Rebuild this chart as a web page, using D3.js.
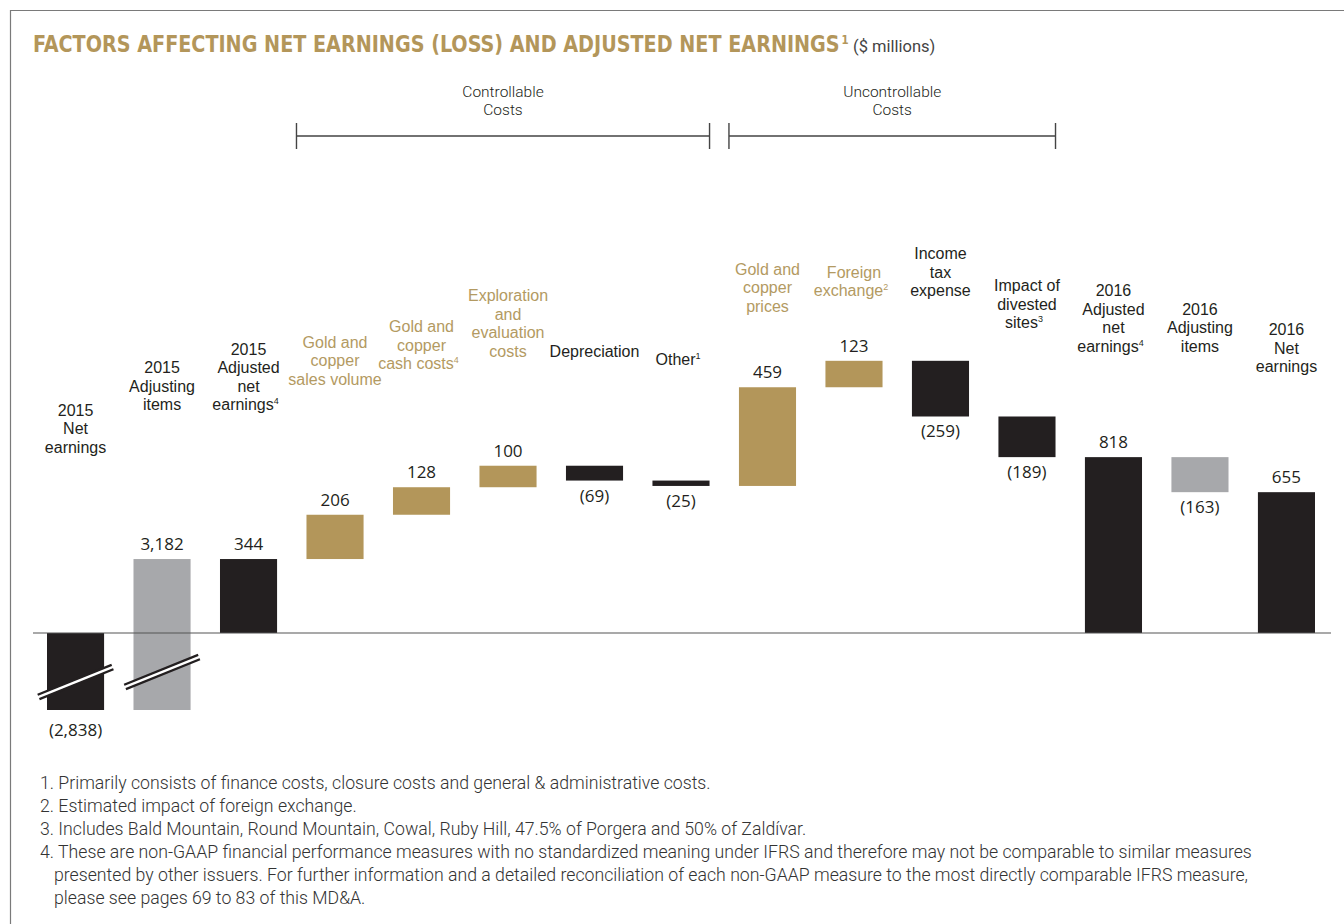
<!DOCTYPE html>
<html>
<head>
<meta charset="utf-8">
<script src="https://cdn.jsdelivr.net/npm/d3@7/dist/d3.min.js"></script>
<style>
  body { margin: 0; background: #fff; }
  svg { display: block; }
</style>
</head>
<body>
<div id="chart"></div>
<script>
// label lines, "^" marks a superscript footnote number
var labels = [
  ["2015", "Net", "earnings"],
  ["2015", "Adjusting", "items"],
  ["2015", "Adjusted", "net", "earnings^4"],
  ["Gold and", "copper", "sales volume"],
  ["Gold and", "copper", "cash costs^4"],
  ["Exploration", "and", "evaluation", "costs"],
  ["Depreciation"],
  ["Other^1"],
  ["Gold and", "copper", "prices"],
  ["Foreign", "exchange^2"],
  ["Income", "tax", "expense"],
  ["Impact of", "divested", "sites^3"],
  ["2016", "Adjusted", "net", "earnings^4"],
  ["2016", "Adjusting", "items"],
  ["2016", "Net", "earnings"]
];
var values = [-2838, 3182, 344, 206, 128, 100, -69, -25, 459, 123, -259, -189, 818, -163, 655];
var kinds = ["total", "adjust", "total", "gain", "gain", "gain", "cost", "cost", "gain", "gain", "cost", "cost", "total", "adjust", "total"];

var groupNames = [["Controllable", "Costs"], ["Uncontrollable", "Costs"]];
var groupRanges = [[3, 7], [8, 11]];

var footnotes = [
  ["1. Primarily consists of finance costs, closure costs and general & administrative costs."],
  ["2. Estimated impact of foreign exchange."],
  ["3. Includes Bald Mountain, Round Mountain, Cowal, Ruby Hill, 47.5% of Porgera and 50% of Zaldívar."],
  ["4. These are non-GAAP financial performance measures with no standardized meaning under IFRS and therefore may not be comparable to similar measures",
   "presented by other issuers. For further information and a detailed reconciliation of each non-GAAP measure to the most directly comparable IFRS measure,",
   "please see pages 69 to 83 of this MD&A."]
];

function buildChart(id) {
  var width = 1344;
  var height = 924;

  var gold = "#b3965a";
  var goldText = "#b39a62";
  var dark = "#231f20";
  var grey = "#a7a8ab";
  var labelFont = "'Open Sans', 'Noto Sans', sans-serif";
  var catFont = "'Liberation Sans', Arial, sans-serif";
  var lightFont = "Roboto, 'Liberation Sans Narrow', sans-serif";

  var svg = d3.select(id).append("svg").attr("width", width).attr("height", height);

  // frame
  svg.append("path")
    .attr("d", "M10.5," + height + "V10.5H" + width)
    .attr("fill", "none")
    .attr("stroke", "#7a7a7a")
    .attr("stroke-width", 1.2);

  // title, squeezed a little to match the condensed face of the original
  var titleG = svg.append("g").attr("transform", "translate(33,52) scale(0.948,1)");
  var title = titleG.append("text")
    .attr("x", 0)
    .attr("y", 0)
    .style("font-family", "'Liberation Sans Narrow', 'DejaVu Sans Condensed', sans-serif")
    .style("font-weight", "bold")
    .style("font-size", "22.5px")
    .attr("fill", gold);
  title.append("tspan").text("FACTORS AFFECTING NET EARNINGS (LOSS) AND ADJUSTED NET EARNINGS");
  title.append("tspan").attr("dx", 2).attr("dy", -8).style("font-size", "12px").text("1");
  svg.append("text")
    .attr("x", 853)
    .attr("y", 52)
    .style("font-family", lightFont)
    .style("font-size", "16.5px")
    .attr("fill", "#444")
    .text("($ millions)");

  // running totals for the waterfall
  var running = 0;
  var steps = values.map(function (v, i) {
    var start, end;
    if (kinds[i] === "total") {
      start = 0;
      end = v;
    } else {
      start = running;
      end = running + v;
    }
    running = end;
    return { i: i, value: v, kind: kinds[i], start: start, end: end, lines: labels[i] };
  });

  var x = d3.scaleBand()
    .domain(d3.range(values.length))
    .range([47, 1315])
    .paddingInner(0.34)
    .paddingOuter(0);

  var y = d3.scaleLinear().domain([0, 1400]).range([633, 332]);

  // values below this are cut off by the axis break
  var floorValue = y.invert(710);
  function yc(v) {
    return y(Math.max(v, floorValue));
  }

  var g = svg.append("g");

  g.selectAll(".bar")
    .data(steps)
    .enter()
    .append("rect")
    .attr("class", "bar")
    .attr("x", function (d) { return x(d.i); })
    .attr("y", function (d) { return yc(Math.max(d.start, d.end)); })
    .attr("width", x.bandwidth())
    .attr("height", function (d) { return yc(Math.min(d.start, d.end)) - yc(Math.max(d.start, d.end)); })
    .attr("fill", function (d) {
      if (d.kind === "gain") return gold;
      if (d.kind === "adjust") return grey;
      return dark;
    });

  // zero line
  g.append("line")
    .attr("x1", 33)
    .attr("x2", 1331)
    .attr("y1", y(0))
    .attr("y2", y(0))
    .attr("stroke", "#555")
    .attr("stroke-width", 1.2);

  // axis break marks on the bars that run off the chart
  var broken = steps.filter(function (d) { return Math.min(d.start, d.end) < floorValue; });
  var breakG = g.selectAll(".break")
    .data(broken)
    .enter()
    .append("g")
    .attr("class", "break")
    .attr("transform", function (d, k) {
      var cx = x(d.i) + x.bandwidth() / 2;
      var cy = y(floorValue) - 28 - k * 10;
      return "translate(" + cx + "," + cy + ")";
    });
  breakG.append("line")
    .attr("x1", -37).attr("y1", 15).attr("x2", 37).attr("y2", -15)
    .attr("stroke", dark).attr("stroke-width", 7);
  breakG.append("line")
    .attr("x1", -40).attr("y1", 16.2).attr("x2", 40).attr("y2", -16.2)
    .attr("stroke", "#fff").attr("stroke-width", 2.4);

  var fmt = d3.format(",");
  function valueText(v) {
    return v < 0 ? "(" + fmt(-v) + ")" : fmt(v);
  }
  function above(d) {
    return d.end >= d.start && d.value >= 0;
  }

  // value labels
  g.selectAll(".value")
    .data(steps)
    .enter()
    .append("text")
    .attr("class", "value")
    .attr("x", function (d) { return x(d.i) + x.bandwidth() / 2; })
    .attr("y", function (d) {
      if (above(d)) return yc(Math.max(d.start, d.end)) - 9;
      var b = yc(Math.min(d.start, d.end));
      return b + (b >= y(floorValue) ? 26 : 21);
    })
    .attr("text-anchor", "middle")
    .style("font-family", labelFont)
    .style("font-size", "17px")
    .attr("fill", dark)
    .text(function (d) { return valueText(d.value); });

  // category labels: bottom line follows the bar top, damped so the labels
  // form a gentle arch over the bars. one text per category, a tspan per line
  var lineH = 18.5;
  steps.forEach(function (d) {
    var top = yc(Math.max(d.start, d.end));
    var bottom = 89 + 0.575 * top;
    var cx = x(d.i) + x.bandwidth() / 2;
    var n = d.lines.length;
    var t = g.append("text")
      .attr("class", "cat-label")
      .attr("text-anchor", "middle")
      .style("font-family", catFont)
      .style("font-size", "16px")
      .attr("fill", d.kind === "gain" ? goldText : dark);
    d.lines.forEach(function (line, k) {
      var parts = line.split("^");
      var ly = bottom - (n - 1 - k) * lineH;
      var main = t.append("tspan").attr("x", cx).attr("y", ly).text(parts[0]);
      if (parts[1]) {
        // keep the line centred on its text without the superscript
        main.attr("dx", -3);
        t.append("tspan").attr("dy", -6).style("font-size", "9px").text(parts[1]);
      }
    });
  });

  // group brackets
  groupRanges.forEach(function (r, k) {
    var left = x(r[0]) - 10;
    var right = x(r[1]) + x.bandwidth();
    var by = 136;
    var mid = (left + right) / 2;
    g.append("path")
      .attr("d", "M" + left + "," + (by - 13) + "V" + (by + 13) +
        "M" + left + "," + by + "H" + right +
        "M" + right + "," + (by - 13) + "V" + (by + 13))
      .attr("fill", "none")
      .attr("stroke", "#444")
      .attr("stroke-width", 1.4);
    var gt = g.append("text")
      .attr("text-anchor", "middle")
      .style("font-family", lightFont)
      .style("font-weight", 300)
      .style("font-size", "15.5px")
      .attr("fill", dark);
    groupNames[k].forEach(function (line, j) {
      gt.append("tspan").attr("x", mid).attr("y", 97 + j * 18).text(line);
    });
  });

  // footnotes
  var row = 0;
  footnotes.forEach(function (note) {
    note.forEach(function (line, j) {
      svg.append("text")
        .attr("x", j === 0 ? 40 : 54)
        .attr("y", 789 + row * 23)
        .style("font-family", lightFont)
        .style("font-weight", 300)
        .style("font-size", "17.7px")
        .attr("fill", "#333")
        .text(line);
      row++;
    });
  });
}

buildChart("#chart");
</script>
</body>
</html>
